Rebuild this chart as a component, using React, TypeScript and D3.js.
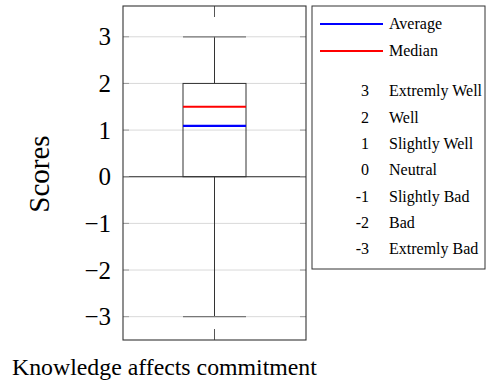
import React from "react";
import * as d3 from "d3";

// Box plot summary
const category = "Knowledge affects commitment";
const whiskerLow = [-3];
const boxLow = [0];
const boxHigh = [2];
const whiskerHigh = [3];
const medianValue = [1.5];
const averageValue = [1.09];

const yTicks = [-3, -2, -1, 0, 1, 2, 3];
const scaleValues = ["3", "2", "1", "0", "-1", "-2", "-3"];
const scaleLabels = ["Extremly Well", "Well", "Slightly Well", "Neutral", "Slightly Bad", "Bad", "Extremly Bad"];
const legendNames = ["Average", "Median"];
const legendColors = ["#0000ff", "#ff0000"];

const W = 486, H = 383;
const plot = { left: 123, right: 306, top: 6, bottom: 340 };
const serif = "'Liberation Serif', 'Times New Roman', serif";

export default function App() {
  const y = d3.scaleLinear().domain([-3.5, 3.66]).range([plot.bottom, plot.top]);
  const x = d3.scaleBand().domain([category]).range([plot.left, plot.right]).padding(0);
  const cx = (x(category) ?? 0) + x.bandwidth() / 2;
  const boxW = 63;
  const bx0 = cx - boxW / 2, bx1 = cx + boxW / 2;
  const fmt = (v: number) => (v < 0 ? "\u2212" + Math.abs(v) : String(v));

  const legend = { x: 312, y: 6, w: 173, h: 263 };
  const legY = d3.scaleLinear().domain([0, 1]).range([24, 51]);
  const rowY = d3.scaleLinear().domain([0, 6]).range([91, 249]);

  return (
    <svg width={W} height={H} style={{ position: "absolute", left: 0, top: 0 }}>
      <rect width={W} height={H} fill="#fff" />
      {/* grid */}
      {yTicks.map((t) => (
        <line key={"g" + t} x1={plot.left} x2={plot.right} y1={y(t)} y2={y(t)}
          stroke={t === 0 ? "#222" : "#d9d9d9"} strokeWidth={t === 0 ? 1.2 : 1} />
      ))}
      {/* y ticks */}
      {yTicks.map((t) => (
        <g key={"t" + t}>
          <line x1={plot.left} x2={plot.left + 6} y1={y(t)} y2={y(t)} stroke="#999" />
          <line x1={plot.right - 6} x2={plot.right} y1={y(t)} y2={y(t)} stroke="#999" />
          <text x={111} y={y(t)} dy="0.34em" textAnchor="end" fontFamily={serif} fontSize={25} fill="#000">{fmt(t)}</text>
        </g>
      ))}
      {/* x ticks */}
      <line x1={cx} x2={cx} y1={plot.top} y2={plot.top + 11} stroke="#555" />
      <line x1={cx} x2={cx} y1={plot.bottom - 11} y2={plot.bottom} stroke="#555" />
      {/* whiskers */}
      <line x1={cx} x2={cx} y1={y(whiskerHigh[0])} y2={y(boxHigh[0])} stroke="#333" />
      <line x1={cx} x2={cx} y1={y(boxLow[0])} y2={y(whiskerLow[0])} stroke="#333" />
      <line x1={bx0} x2={bx1} y1={y(whiskerHigh[0])} y2={y(whiskerHigh[0])} stroke="#777" strokeWidth={1.2} />
      <line x1={bx0} x2={bx1} y1={y(whiskerLow[0])} y2={y(whiskerLow[0])} stroke="#777" strokeWidth={1.2} />
      {/* box */}
      <rect x={bx0} y={y(boxHigh[0])} width={boxW} height={y(boxLow[0]) - y(boxHigh[0])} fill="none" stroke="#333" />
      <line x1={bx0} x2={bx1} y1={y(medianValue[0])} y2={y(medianValue[0])} stroke={legendColors[1]} strokeWidth={2.2} />
      <line x1={bx0} x2={bx1} y1={y(averageValue[0])} y2={y(averageValue[0])} stroke={legendColors[0]} strokeWidth={2.2} />
      {/* frame */}
      <rect x={plot.left} y={plot.top} width={plot.right - plot.left} height={plot.bottom - plot.top} fill="none" stroke="#333" strokeWidth={1.1} />
      {/* axis titles */}
      <text transform="translate(49,174) rotate(-90)" textAnchor="middle" fontFamily={serif} fontSize={29} fill="#000">Scores</text>
      <text x={12} y={375} fontFamily={serif} fontSize={23.8} fill="#000">{category}</text>
      {/* legend */}
      <rect x={legend.x} y={legend.y} width={legend.w} height={legend.h} fill="#fff" stroke="#333" />
      {legendNames.map((n, i) => (
        <g key={n}>
          <line x1={320} x2={383} y1={legY(i)} y2={legY(i)} stroke={legendColors[i]} strokeWidth={2.2} />
          <text x={389} y={legY(i)} dy="0.34em" fontFamily={serif} fontSize={16} fill="#000">{n}</text>
        </g>
      ))}
      {scaleValues.map((v, i) => (
        <g key={"s" + v}>
          <text x={369} y={rowY(i)} dy="0.34em" textAnchor="end" fontFamily={serif} fontSize={16} fill="#000">{v}</text>
          <text x={389} y={rowY(i)} dy="0.34em" fontFamily={serif} fontSize={16} fill="#000">{scaleLabels[i]}</text>
        </g>
      ))}
    </svg>
  );
}
